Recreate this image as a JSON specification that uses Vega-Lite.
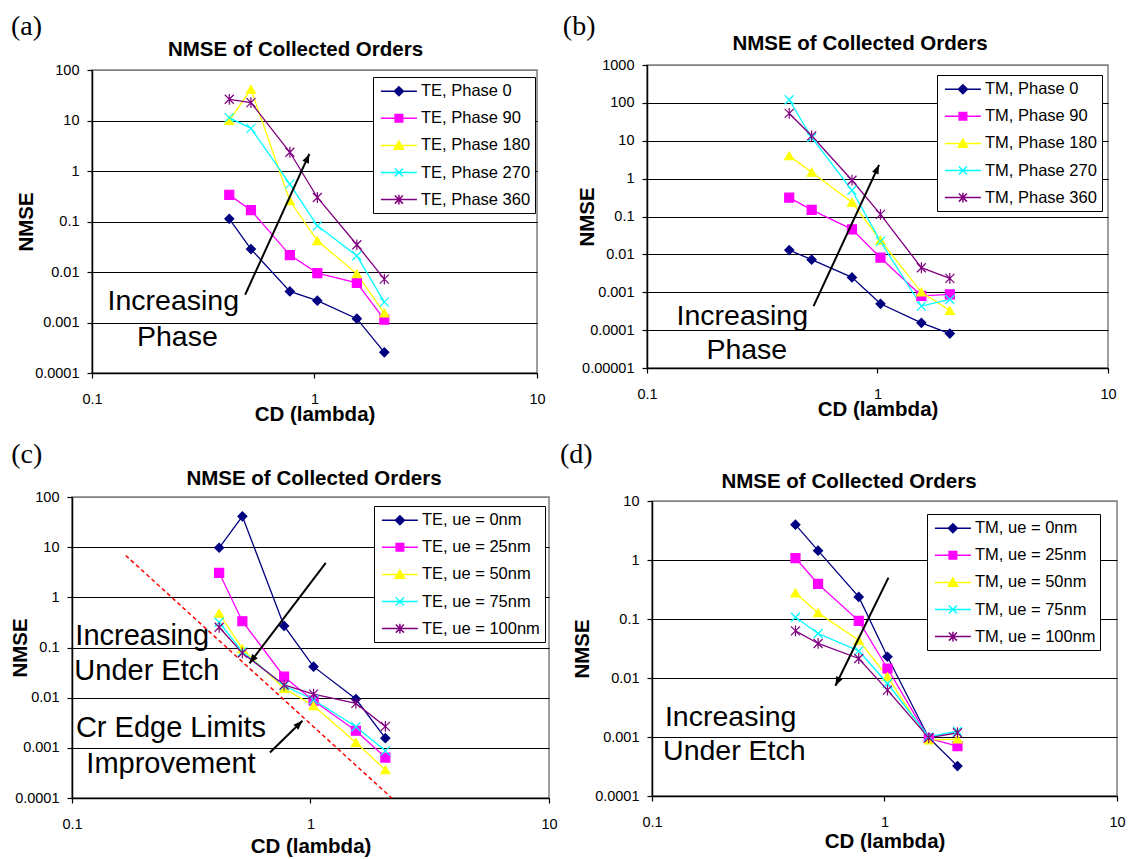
{
  "$schema": "https://vega.github.io/schema/vega-lite/v6.json",
  "padding": {"left": 9, "top": 12, "right": 0, "bottom": 0},
  "background": "white",
  "config": {
    "font": "Liberation Sans",
    "view": {"stroke": "#808080", "strokeWidth": 1.5},
    "axis": {"domainColor": "black", "domainWidth": 1.5, "tickColor": "black", "tickWidth": 1.2, "tickSize": 5, "labelColor": "black", "labelFontSize": 14.5, "labelFont": "Liberation Sans", "titleFont": "Liberation Sans", "titleFontSize": 20.5, "titleFontWeight": "bold", "titleColor": "black", "labelOverlap": false, "labelFlush": false, "grid": false},
    "axisY": {"grid": true, "gridWidth": 1, "gridOpacity": 1, "labelPadding": 8},
    "axisX": {"labelPadding": 14},
    "title": {"font": "Liberation Sans", "fontSize": 20.5, "fontWeight": "bold", "color": "black"},
    "legend": {"labelFont": "Liberation Sans", "labelFontSize": 16.5, "labelColor": "black", "symbolSize": 324, "rowPadding": 8.1, "labelOffset": 23.8, "padding": 4.2, "strokeColor": "black", "fillColor": "white", "labelLimit": 300, "cornerRadius": 0, "title": null, "symbolStrokeWidth": 1.5}
  },
  "datasets": {
    "series": [
      {"p":"a","s":"TE, Phase 0","x":0.414,"y":0.113},{"p":"a","s":"TE, Phase 0","x":0.518,"y":0.0284},{"p":"a","s":"TE, Phase 0","x":0.775,"y":0.00413},{"p":"a","s":"TE, Phase 0","x":1.03,"y":0.0027},{"p":"a","s":"TE, Phase 0","x":1.55,"y":0.00119},{"p":"a","s":"TE, Phase 0","x":2.06,"y":0.000257},
      {"p":"a","s":"TE, Phase 90","x":0.414,"y":0.337},{"p":"a","s":"TE, Phase 90","x":0.518,"y":0.168},{"p":"a","s":"TE, Phase 90","x":0.775,"y":0.0216},{"p":"a","s":"TE, Phase 90","x":1.03,"y":0.0095},{"p":"a","s":"TE, Phase 90","x":1.55,"y":0.0061},{"p":"a","s":"TE, Phase 90","x":2.06,"y":0.00114},
      {"p":"a","s":"TE, Phase 180","x":0.414,"y":9.95},{"p":"a","s":"TE, Phase 180","x":0.518,"y":41.5},{"p":"a","s":"TE, Phase 180","x":0.775,"y":0.257},{"p":"a","s":"TE, Phase 180","x":1.03,"y":0.0415},{"p":"a","s":"TE, Phase 180","x":1.55,"y":0.0092},{"p":"a","s":"TE, Phase 180","x":2.06,"y":0.00154},
      {"p":"a","s":"TE, Phase 270","x":0.414,"y":11.4},{"p":"a","s":"TE, Phase 270","x":0.518,"y":7.0},{"p":"a","s":"TE, Phase 270","x":0.775,"y":0.548},{"p":"a","s":"TE, Phase 270","x":1.03,"y":0.082},{"p":"a","s":"TE, Phase 270","x":1.55,"y":0.021},{"p":"a","s":"TE, Phase 270","x":2.06,"y":0.00254},
      {"p":"a","s":"TE, Phase 360","x":0.414,"y":26.3},{"p":"a","s":"TE, Phase 360","x":0.518,"y":22.6},{"p":"a","s":"TE, Phase 360","x":0.775,"y":2.35},{"p":"a","s":"TE, Phase 360","x":1.03,"y":0.299},{"p":"a","s":"TE, Phase 360","x":1.55,"y":0.0346},{"p":"a","s":"TE, Phase 360","x":2.06,"y":0.00724},
      {"p":"b","s":"TM, Phase 0","x":0.414,"y":0.013},{"p":"b","s":"TM, Phase 0","x":0.518,"y":0.00723},{"p":"b","s":"TM, Phase 0","x":0.775,"y":0.00247},{"p":"b","s":"TM, Phase 0","x":1.03,"y":0.000495},{"p":"b","s":"TM, Phase 0","x":1.55,"y":0.000156},{"p":"b","s":"TM, Phase 0","x":2.06,"y":0.0000813},
      {"p":"b","s":"TM, Phase 90","x":0.414,"y":0.315},{"p":"b","s":"TM, Phase 90","x":0.518,"y":0.149},{"p":"b","s":"TM, Phase 90","x":0.775,"y":0.0458},{"p":"b","s":"TM, Phase 90","x":1.03,"y":0.00816},{"p":"b","s":"TM, Phase 90","x":1.55,"y":0.000807},{"p":"b","s":"TM, Phase 90","x":2.06,"y":0.000875},
      {"p":"b","s":"TM, Phase 180","x":0.414,"y":3.99},{"p":"b","s":"TM, Phase 180","x":0.518,"y":1.48},{"p":"b","s":"TM, Phase 180","x":0.775,"y":0.238},{"p":"b","s":"TM, Phase 180","x":1.03,"y":0.0235},{"p":"b","s":"TM, Phase 180","x":1.55,"y":0.00101},{"p":"b","s":"TM, Phase 180","x":2.06,"y":0.00033},
      {"p":"b","s":"TM, Phase 270","x":0.414,"y":121},{"p":"b","s":"TM, Phase 270","x":0.518,"y":12.2},{"p":"b","s":"TM, Phase 270","x":0.775,"y":0.493},{"p":"b","s":"TM, Phase 270","x":1.03,"y":0.022},{"p":"b","s":"TM, Phase 270","x":1.55,"y":0.00043},{"p":"b","s":"TM, Phase 270","x":2.06,"y":0.000645},
      {"p":"b","s":"TM, Phase 360","x":0.414,"y":52.6},{"p":"b","s":"TM, Phase 360","x":0.518,"y":13.5},{"p":"b","s":"TM, Phase 360","x":0.775,"y":0.908},{"p":"b","s":"TM, Phase 360","x":1.03,"y":0.114},{"p":"b","s":"TM, Phase 360","x":1.55,"y":0.00444},{"p":"b","s":"TM, Phase 360","x":2.06,"y":0.00232},
      {"p":"c","s":"TE, ue = 0nm","x":0.414,"y":9.73},{"p":"c","s":"TE, ue = 0nm","x":0.518,"y":41.1},{"p":"c","s":"TE, ue = 0nm","x":0.775,"y":0.269},{"p":"c","s":"TE, ue = 0nm","x":1.03,"y":0.0415},{"p":"c","s":"TE, ue = 0nm","x":1.55,"y":0.00938},{"p":"c","s":"TE, ue = 0nm","x":2.06,"y":0.00156},
      {"p":"c","s":"TE, ue = 25nm","x":0.414,"y":3.08},{"p":"c","s":"TE, ue = 25nm","x":0.518,"y":0.334},{"p":"c","s":"TE, ue = 25nm","x":0.775,"y":0.0262},{"p":"c","s":"TE, ue = 25nm","x":1.03,"y":0.0087},{"p":"c","s":"TE, ue = 25nm","x":1.55,"y":0.00219},{"p":"c","s":"TE, ue = 25nm","x":2.06,"y":0.00064},
      {"p":"c","s":"TE, ue = 50nm","x":0.414,"y":0.482},{"p":"c","s":"TE, ue = 50nm","x":0.518,"y":0.0935},{"p":"c","s":"TE, ue = 50nm","x":0.775,"y":0.0153},{"p":"c","s":"TE, ue = 50nm","x":1.03,"y":0.0069},{"p":"c","s":"TE, ue = 50nm","x":1.55,"y":0.00128},{"p":"c","s":"TE, ue = 50nm","x":2.06,"y":0.000364},
      {"p":"c","s":"TE, ue = 75nm","x":0.414,"y":0.318},{"p":"c","s":"TE, ue = 75nm","x":0.518,"y":0.0826},{"p":"c","s":"TE, ue = 75nm","x":0.775,"y":0.0173},{"p":"c","s":"TE, ue = 75nm","x":1.03,"y":0.0091},{"p":"c","s":"TE, ue = 75nm","x":1.55,"y":0.00263},{"p":"c","s":"TE, ue = 75nm","x":2.06,"y":0.00087},
      {"p":"c","s":"TE, ue = 100nm","x":0.414,"y":0.253},{"p":"c","s":"TE, ue = 100nm","x":0.518,"y":0.0778},{"p":"c","s":"TE, ue = 100nm","x":0.775,"y":0.0179},{"p":"c","s":"TE, ue = 100nm","x":1.03,"y":0.0118},{"p":"c","s":"TE, ue = 100nm","x":1.55,"y":0.00768},{"p":"c","s":"TE, ue = 100nm","x":2.06,"y":0.00267},
      {"p":"d","s":"TM, ue = 0nm","x":0.414,"y":3.97},{"p":"d","s":"TM, ue = 0nm","x":0.518,"y":1.44},{"p":"d","s":"TM, ue = 0nm","x":0.775,"y":0.237},{"p":"d","s":"TM, ue = 0nm","x":1.03,"y":0.0229},{"p":"d","s":"TM, ue = 0nm","x":1.55,"y":0.000972},{"p":"d","s":"TM, ue = 0nm","x":2.06,"y":0.000322},
      {"p":"d","s":"TM, ue = 25nm","x":0.414,"y":1.08},{"p":"d","s":"TM, ue = 25nm","x":0.518,"y":0.393},{"p":"d","s":"TM, ue = 25nm","x":0.775,"y":0.093},{"p":"d","s":"TM, ue = 25nm","x":1.03,"y":0.0145},{"p":"d","s":"TM, ue = 25nm","x":1.55,"y":0.000946},{"p":"d","s":"TM, ue = 25nm","x":2.06,"y":0.000703},
      {"p":"d","s":"TM, ue = 50nm","x":0.414,"y":0.277},{"p":"d","s":"TM, ue = 50nm","x":0.518,"y":0.127},{"p":"d","s":"TM, ue = 50nm","x":0.775,"y":0.0437},{"p":"d","s":"TM, ue = 50nm","x":1.03,"y":0.0105},{"p":"d","s":"TM, ue = 50nm","x":1.55,"y":0.000888},{"p":"d","s":"TM, ue = 50nm","x":2.06,"y":0.000923},
      {"p":"d","s":"TM, ue = 75nm","x":0.414,"y":0.107},{"p":"d","s":"TM, ue = 75nm","x":0.518,"y":0.0568},{"p":"d","s":"TM, ue = 75nm","x":0.775,"y":0.0289},{"p":"d","s":"TM, ue = 75nm","x":1.03,"y":0.00807},{"p":"d","s":"TM, ue = 75nm","x":1.55,"y":0.00101},{"p":"d","s":"TM, ue = 75nm","x":2.06,"y":0.00126},
      {"p":"d","s":"TM, ue = 100nm","x":0.414,"y":0.063},{"p":"d","s":"TM, ue = 100nm","x":0.518,"y":0.0385},{"p":"d","s":"TM, ue = 100nm","x":0.775,"y":0.0214},{"p":"d","s":"TM, ue = 100nm","x":1.03,"y":0.00623},{"p":"d","s":"TM, ue = 100nm","x":1.55,"y":0.00097},{"p":"d","s":"TM, ue = 100nm","x":2.06,"y":0.00118}
    ],
    "notes": [
      {"p":"a","t":"Increasing","x":0.232,"y":0.00263},{"p":"a","t":"Phase","x":0.242,"y":0.000516},
      {"p":"b","t":"Increasing","x":0.259,"y":0.000243},{"p":"b","t":"Phase","x":0.271,"y":0.0000307},
      {"p":"c","t":"Increasing","x":0.197,"y":0.1675},{"p":"c","t":"Under Etch","x":0.206,"y":0.0335},{"p":"c","t":"Cr Edge Limits","x":0.26,"y":0.00243},{"p":"c","t":"Improvement","x":0.26,"y":0.000472},
      {"p":"d","t":"Increasing","x":0.218,"y":0.00217},{"p":"d","t":"Under Etch","x":0.226,"y":0.000578}
    ],
    "arrows": [
      {"p":"a","k":1,"x":0.948,"y":2.18,"x2":0.488,"y2":0.00355},
      {"p":"b","k":1,"x":1.016,"y":2.31,"x2":0.528,"y2":0.00043},
      {"p":"c","k":1,"x":0.555,"y":0.0483,"x2":1.159,"y2":4.88},
      {"p":"c","k":2,"x":0.925,"y":0.00346,"x2":0.676,"y2":0.000807},
      {"p":"d","k":1,"x":0.615,"y":0.00738,"x2":1.04,"y2":0.503}
    ],
    "guide": [
      {"p":"c","x":0.168,"y":6.84,"x2":2.19,"y2":0.0001}
    ]
  },
  "resolve": {"scale": {"x": "independent", "y": "independent", "color": "independent", "fill": "independent", "stroke": "independent", "shape": "independent"}, "legend": {"color": "independent"}},
  "spacing": 14,
  "vconcat": [
    {
      "spacing": 0,
      "resolve": {"scale": {"x": "independent", "y": "independent", "color": "independent", "fill": "independent", "stroke": "independent", "shape": "independent"}, "legend": {"color": "independent"}},
      "hconcat": [
        {"width": 1, "height": 1, "data": {"values": []}, "mark": {"type": "text", "text": ""}, "view": {"stroke": null}},
        {
          "spacing": 16,
          "resolve": {"scale": {"x": "independent", "y": "independent", "color": "independent", "fill": "independent", "stroke": "independent", "shape": "independent"}, "legend": {"color": "independent"}},
          "hconcat": [
            {
              "spacing": 0,
              "resolve": {"scale": {"x": "independent", "y": "independent", "color": "independent", "fill": "independent", "stroke": "independent", "shape": "independent"}, "legend": {"color": "independent"}},
              "vconcat": [
                {"width": 1, "height": 1, "data": {"values": []}, "mark": {"type": "text", "text": ""}, "view": {"stroke": null}},
                {
                  "title": {"text": "(a)", "anchor": "start", "frame": "bounds", "font": "Liberation Serif", "fontSize": 28, "fontWeight": "normal", "dx": -5, "offset": -2},
                  "resolve": {"scale": {"x": "independent", "y": "independent", "color": "independent", "fill": "independent", "stroke": "independent", "shape": "independent"}, "legend": {"color": "independent"}},
                  "vconcat": [
                    {
                      "title": {"text": "NMSE of Collected Orders", "dx": -19, "offset": 1.4},
                      "width": 445, "height": 303,
                      "encoding": {
                        "x": {"field": "x", "type": "quantitative", "scale": {"type": "log", "domain": [0.1, 10], "nice": false}, "axis": {"values": [0.1, 1, 10], "format": "~g", "title": "CD (lambda)", "titlePadding": -1}},
                        "y": {"field": "y", "type": "quantitative", "scale": {"type": "log", "domain": [0.0001, 100], "nice": false}, "axis": {"values": [0.0001, 0.001, 0.01, 0.1, 1, 10, 100], "format": "~g", "title": "NMSE", "titlePadding": -2, "gridColor": {"condition": {"test": "datum.value >= 99", "value": "#808080"}, "value": "black"}}}
                      },
                      "layer": [
                        {"data": {"name": "series"}, "transform": [{"filter": "datum.p == 'a'"}], "mark": {"type": "line", "strokeWidth": 1.3},
                          "encoding": {"color": {"field": "s", "type": "nominal", "scale": {"domain": ["TE, Phase 0", "TE, Phase 90", "TE, Phase 180", "TE, Phase 270", "TE, Phase 360"], "range": ["#000080", "#FF00FF", "#FFFF00", "#00FFFF", "#800080"]},
                            "legend": {"orient": "none", "legendX": 281, "legendY": 7, "encode": {"symbols": {"update": {
                              "shape": {"signal": "['M-0.7,0L3.3,0M1.3,-0.5L1.8,0L1.3,0.5L0.8,0Z','M-0.7,0L3.3,0M0.88,-0.42L1.72,-0.42L1.72,0.42L0.88,0.42Z','M-0.7,0L3.3,0M1.3,-0.48L1.82,0.42L0.78,0.42Z','M-0.7,0L3.3,0M0.85,-0.45L1.75,0.45M0.85,0.45L1.75,-0.45','M-0.7,0L3.3,0M0.85,-0.45L1.75,0.45M0.85,0.45L1.75,-0.45M1.3,-0.55L1.3,0.55'][datum.index]"},
                              "fill": {"signal": "['#000080','#FF00FF','#FFFF00','#00FFFF','#800080'][datum.index]"},
                              "stroke": {"signal": "['#000080','#FF00FF','#FFFF00','#00FFFF','#800080'][datum.index]"},
                              "strokeWidth": {"value": 1.5}, "opacity": {"value": 1}, "fillOpacity": {"value": 1}, "strokeOpacity": {"value": 1}}}}}}}},
                        {"data": {"name": "series"}, "transform": [{"filter": "datum.p == 'a'"}], "mark": {"type": "point", "filled": true, "size": 81, "strokeWidth": 1.2, "opacity": 1},
                          "encoding": {
                            "fill": {"field": "s", "type": "nominal", "scale": {"domain": ["TE, Phase 360", "TE, Phase 270", "TE, Phase 180", "TE, Phase 90", "TE, Phase 0"], "range": ["#800080", "#00FFFF", "#FFFF00", "#FF00FF", "#000080"]}, "legend": null},
                            "stroke": {"field": "s", "type": "nominal", "scale": {"domain": ["TE, Phase 360", "TE, Phase 270", "TE, Phase 180", "TE, Phase 90", "TE, Phase 0"], "range": ["#800080", "#00FFFF", "#FFFF00", "#FF00FF", "#000080"]}, "legend": null},
                            "shape": {"field": "s", "type": "nominal", "scale": {"domain": ["TE, Phase 360", "TE, Phase 270", "TE, Phase 180", "TE, Phase 90", "TE, Phase 0"], "range": ["M-1,-1L1,1M-1,1L1,-1M0,-1.2L0,1.2", "M-1,-1L1,1M-1,1L1,-1", "triangle-up", "square", "diamond"]}, "legend": null}}},
                        {"data": {"name": "notes"}, "transform": [{"filter": "datum.p == 'a'"}], "mark": {"type": "text", "fontSize": 28.5, "font": "Liberation Sans", "align": "center", "baseline": "middle", "color": "black"}, "encoding": {"text": {"field": "t"}}},
                        {"data": {"name": "arrows"}, "transform": [{"filter": "datum.p == 'a'"}], "mark": {"type": "rule", "strokeWidth": 2, "color": "black"}, "encoding": {"x2": {"field": "x2"}, "y2": {"field": "y2"}}},
                        {"data": {"name": "arrows"}, "transform": [{"filter": "datum.p == 'a'"}], "mark": {"type": "point", "shape": "M0,0L-0.5,1.3L0.5,1.3Z", "size": 196, "filled": true, "color": "black", "opacity": 1, "angle": 24.5}}
                      ]
                    }
                  ]
                }
              ]
            },
            {
              "spacing": 0,
              "resolve": {"scale": {"x": "independent", "y": "independent", "color": "independent", "fill": "independent", "stroke": "independent", "shape": "independent"}, "legend": {"color": "independent"}},
              "vconcat": [
                {"width": 1, "height": 1, "data": {"values": []}, "mark": {"type": "text", "text": ""}, "view": {"stroke": null}},
                {
                  "title": {"text": "(b)", "anchor": "start", "frame": "bounds", "font": "Liberation Serif", "fontSize": 28, "fontWeight": "normal", "dx": -13.5, "offset": -8},
                  "resolve": {"scale": {"x": "independent", "y": "independent", "color": "independent", "fill": "independent", "stroke": "independent", "shape": "independent"}, "legend": {"color": "independent"}},
                  "vconcat": [
                    {
                      "title": {"text": "NMSE of Collected Orders", "dx": -17.5, "offset": 2.4},
                      "width": 461, "height": 303,
                      "encoding": {
                        "x": {"field": "x", "type": "quantitative", "scale": {"type": "log", "domain": [0.1, 10], "nice": false}, "axis": {"values": [0.1, 1, 10], "format": "~g", "title": "CD (lambda)", "titlePadding": -1.5}},
                        "y": {"field": "y", "type": "quantitative", "scale": {"type": "log", "domain": [0.00001, 1000], "nice": false}, "axis": {"values": [0.00001, 0.0001, 0.001, 0.01, 0.1, 1, 10, 100, 1000], "format": "~g", "title": "NMSE", "titlePadding": -15.5, "gridColor": {"condition": {"test": "datum.value >= 999", "value": "#808080"}, "value": "black"}}}
                      },
                      "layer": [
                        {"data": {"name": "series"}, "transform": [{"filter": "datum.p == 'b'"}], "mark": {"type": "line", "strokeWidth": 1.3},
                          "encoding": {"color": {"field": "s", "type": "nominal", "scale": {"domain": ["TM, Phase 0", "TM, Phase 90", "TM, Phase 180", "TM, Phase 270", "TM, Phase 360"], "range": ["#000080", "#FF00FF", "#FFFF00", "#00FFFF", "#800080"]},
                            "legend": {"orient": "none", "legendX": 290, "legendY": 10, "encode": {"symbols": {"update": {
                              "shape": {"signal": "['M-0.7,0L3.3,0M1.3,-0.5L1.8,0L1.3,0.5L0.8,0Z','M-0.7,0L3.3,0M0.88,-0.42L1.72,-0.42L1.72,0.42L0.88,0.42Z','M-0.7,0L3.3,0M1.3,-0.48L1.82,0.42L0.78,0.42Z','M-0.7,0L3.3,0M0.85,-0.45L1.75,0.45M0.85,0.45L1.75,-0.45','M-0.7,0L3.3,0M0.85,-0.45L1.75,0.45M0.85,0.45L1.75,-0.45M1.3,-0.55L1.3,0.55'][datum.index]"},
                              "fill": {"signal": "['#000080','#FF00FF','#FFFF00','#00FFFF','#800080'][datum.index]"},
                              "stroke": {"signal": "['#000080','#FF00FF','#FFFF00','#00FFFF','#800080'][datum.index]"},
                              "strokeWidth": {"value": 1.5}, "opacity": {"value": 1}, "fillOpacity": {"value": 1}, "strokeOpacity": {"value": 1}}}}}}}},
                        {"data": {"name": "series"}, "transform": [{"filter": "datum.p == 'b'"}], "mark": {"type": "point", "filled": true, "size": 81, "strokeWidth": 1.2, "opacity": 1},
                          "encoding": {
                            "fill": {"field": "s", "type": "nominal", "scale": {"domain": ["TM, Phase 360", "TM, Phase 270", "TM, Phase 180", "TM, Phase 90", "TM, Phase 0"], "range": ["#800080", "#00FFFF", "#FFFF00", "#FF00FF", "#000080"]}, "legend": null},
                            "stroke": {"field": "s", "type": "nominal", "scale": {"domain": ["TM, Phase 360", "TM, Phase 270", "TM, Phase 180", "TM, Phase 90", "TM, Phase 0"], "range": ["#800080", "#00FFFF", "#FFFF00", "#FF00FF", "#000080"]}, "legend": null},
                            "shape": {"field": "s", "type": "nominal", "scale": {"domain": ["TM, Phase 360", "TM, Phase 270", "TM, Phase 180", "TM, Phase 90", "TM, Phase 0"], "range": ["M-1,-1L1,1M-1,1L1,-1M0,-1.2L0,1.2", "M-1,-1L1,1M-1,1L1,-1", "triangle-up", "square", "diamond"]}, "legend": null}}},
                        {"data": {"name": "notes"}, "transform": [{"filter": "datum.p == 'b'"}], "mark": {"type": "text", "fontSize": 28.5, "font": "Liberation Sans", "align": "center", "baseline": "middle", "color": "black"}, "encoding": {"text": {"field": "t"}}},
                        {"data": {"name": "arrows"}, "transform": [{"filter": "datum.p == 'b'"}], "mark": {"type": "rule", "strokeWidth": 2, "color": "black"}, "encoding": {"x2": {"field": "x2"}, "y2": {"field": "y2"}}},
                        {"data": {"name": "arrows"}, "transform": [{"filter": "datum.p == 'b'"}], "mark": {"type": "point", "shape": "M0,0L-0.5,1.3L0.5,1.3Z", "size": 196, "filled": true, "color": "black", "opacity": 1, "angle": 24.8}}
                      ]
                    }
                  ]
                }
              ]
            }
          ]
        }
      ]
    },
    {
      "spacing": 0,
      "resolve": {"scale": {"x": "independent", "y": "independent", "color": "independent", "fill": "independent", "stroke": "independent", "shape": "independent"}, "legend": {"color": "independent"}},
      "hconcat": [
        {"width": 1, "height": 1, "data": {"values": []}, "mark": {"type": "text", "text": ""}, "view": {"stroke": null}},
        {
          "spacing": 1,
          "resolve": {"scale": {"x": "independent", "y": "independent", "color": "independent", "fill": "independent", "stroke": "independent", "shape": "independent"}, "legend": {"color": "independent"}},
          "hconcat": [
            {
              "spacing": 0,
              "resolve": {"scale": {"x": "independent", "y": "independent", "color": "independent", "fill": "independent", "stroke": "independent", "shape": "independent"}, "legend": {"color": "independent"}},
              "vconcat": [
                {"width": 1, "height": 1, "data": {"values": []}, "mark": {"type": "text", "text": ""}, "view": {"stroke": null}},
                {
                  "title": {"text": "(c)", "anchor": "start", "frame": "bounds", "font": "Liberation Serif", "fontSize": 28, "fontWeight": "normal", "dx": 1, "offset": -1},
                  "resolve": {"scale": {"x": "independent", "y": "independent", "color": "independent", "fill": "independent", "stroke": "independent", "shape": "independent"}, "legend": {"color": "independent"}},
                  "vconcat": [
                    {
                      "title": {"text": "NMSE of Collected Orders", "dx": 3.5, "offset": -0.6},
                      "width": 477, "height": 301,
                      "encoding": {
                        "x": {"field": "x", "type": "quantitative", "scale": {"type": "log", "domain": [0.1, 10], "nice": false}, "axis": {"values": [0.1, 1, 10], "format": "~g", "title": "CD (lambda)", "titlePadding": 6}},
                        "y": {"field": "y", "type": "quantitative", "scale": {"type": "log", "domain": [0.0001, 100], "nice": false}, "axis": {"values": [0.0001, 0.001, 0.01, 0.1, 1, 10, 100], "format": "~g", "title": "NMSE", "titlePadding": -16.3, "gridColor": {"condition": {"test": "datum.value >= 99", "value": "#808080"}, "value": "black"}}}
                      },
                      "layer": [
                        {"data": {"name": "guide"}, "transform": [{"filter": "datum.p == 'c'"}], "mark": {"type": "rule", "strokeWidth": 1.5, "color": "#FF0000", "strokeDash": [4, 3]}, "encoding": {"x2": {"field": "x2"}, "y2": {"field": "y2"}}},
                        {"data": {"name": "series"}, "transform": [{"filter": "datum.p == 'c'"}], "mark": {"type": "line", "strokeWidth": 1.3},
                          "encoding": {"color": {"field": "s", "type": "nominal", "scale": {"domain": ["TE, ue = 0nm", "TE, ue = 25nm", "TE, ue = 50nm", "TE, ue = 75nm", "TE, ue = 100nm"], "range": ["#000080", "#FF00FF", "#FFFF00", "#00FFFF", "#800080"]},
                            "legend": {"orient": "none", "legendX": 302, "legendY": 9, "encode": {"symbols": {"update": {
                              "shape": {"signal": "['M-0.7,0L3.3,0M1.3,-0.5L1.8,0L1.3,0.5L0.8,0Z','M-0.7,0L3.3,0M0.88,-0.42L1.72,-0.42L1.72,0.42L0.88,0.42Z','M-0.7,0L3.3,0M1.3,-0.48L1.82,0.42L0.78,0.42Z','M-0.7,0L3.3,0M0.85,-0.45L1.75,0.45M0.85,0.45L1.75,-0.45','M-0.7,0L3.3,0M0.85,-0.45L1.75,0.45M0.85,0.45L1.75,-0.45M1.3,-0.55L1.3,0.55'][datum.index]"},
                              "fill": {"signal": "['#000080','#FF00FF','#FFFF00','#00FFFF','#800080'][datum.index]"},
                              "stroke": {"signal": "['#000080','#FF00FF','#FFFF00','#00FFFF','#800080'][datum.index]"},
                              "strokeWidth": {"value": 1.5}, "opacity": {"value": 1}, "fillOpacity": {"value": 1}, "strokeOpacity": {"value": 1}}}}}}}},
                        {"data": {"name": "series"}, "transform": [{"filter": "datum.p == 'c'"}], "mark": {"type": "point", "filled": true, "size": 81, "strokeWidth": 1.2, "opacity": 1},
                          "encoding": {
                            "fill": {"field": "s", "type": "nominal", "scale": {"domain": ["TE, ue = 100nm", "TE, ue = 75nm", "TE, ue = 50nm", "TE, ue = 25nm", "TE, ue = 0nm"], "range": ["#800080", "#00FFFF", "#FFFF00", "#FF00FF", "#000080"]}, "legend": null},
                            "stroke": {"field": "s", "type": "nominal", "scale": {"domain": ["TE, ue = 100nm", "TE, ue = 75nm", "TE, ue = 50nm", "TE, ue = 25nm", "TE, ue = 0nm"], "range": ["#800080", "#00FFFF", "#FFFF00", "#FF00FF", "#000080"]}, "legend": null},
                            "shape": {"field": "s", "type": "nominal", "scale": {"domain": ["TE, ue = 100nm", "TE, ue = 75nm", "TE, ue = 50nm", "TE, ue = 25nm", "TE, ue = 0nm"], "range": ["M-1,-1L1,1M-1,1L1,-1M0,-1.2L0,1.2", "M-1,-1L1,1M-1,1L1,-1", "triangle-up", "square", "diamond"]}, "legend": null}}},
                        {"data": {"name": "notes"}, "transform": [{"filter": "datum.p == 'c'"}], "mark": {"type": "text", "fontSize": 29, "font": "Liberation Sans", "align": "center", "baseline": "middle", "color": "black"}, "encoding": {"text": {"field": "t"}}},
                        {"data": {"name": "arrows"}, "transform": [{"filter": "datum.p == 'c'"}], "mark": {"type": "rule", "strokeWidth": 2, "color": "black"}, "encoding": {"x2": {"field": "x2"}, "y2": {"field": "y2"}}},
                        {"data": {"name": "arrows"}, "transform": [{"filter": "datum.p == 'c' && datum.k == 1"}], "mark": {"type": "point", "shape": "M0,0L-0.5,1.3L0.5,1.3Z", "size": 196, "filled": true, "color": "black", "opacity": 1, "angle": 217}},
                        {"data": {"name": "arrows"}, "transform": [{"filter": "datum.p == 'c' && datum.k == 2"}], "mark": {"type": "point", "shape": "M0,0L-0.5,1.3L0.5,1.3Z", "size": 196, "filled": true, "color": "black", "opacity": 1, "angle": 45.6}}
                      ]
                    }
                  ]
                }
              ]
            },
            {
              "spacing": 0,
              "resolve": {"scale": {"x": "independent", "y": "independent", "color": "independent", "fill": "independent", "stroke": "independent", "shape": "independent"}, "legend": {"color": "independent"}},
              "vconcat": [
                {"width": 1, "height": 1, "data": {"values": []}, "mark": {"type": "text", "text": ""}, "view": {"stroke": null}},
                {
                  "title": {"text": "(d)", "anchor": "start", "frame": "bounds", "font": "Liberation Serif", "fontSize": 28, "fontWeight": "normal", "dx": -12, "offset": 1.9},
                  "resolve": {"scale": {"x": "independent", "y": "independent", "color": "independent", "fill": "independent", "stroke": "independent", "shape": "independent"}, "legend": {"color": "independent"}},
                  "vconcat": [
                    {
                      "title": {"text": "NMSE of Collected Orders", "dx": -35.5, "offset": 0.4},
                      "width": 465, "height": 295,
                      "encoding": {
                        "x": {"field": "x", "type": "quantitative", "scale": {"type": "log", "domain": [0.1, 10], "nice": false}, "axis": {"values": [0.1, 1, 10], "format": "~g", "title": "CD (lambda)", "titlePadding": 3}},
                        "y": {"field": "y", "type": "quantitative", "scale": {"type": "log", "domain": [0.0001, 10], "nice": false}, "axis": {"values": [0.0001, 0.001, 0.01, 0.1, 1, 10], "format": "~g", "title": "NMSE", "titlePadding": 2, "gridColor": {"condition": {"test": "datum.value >= 9", "value": "#808080"}, "value": "black"}}}
                      },
                      "layer": [
                        {"data": {"name": "series"}, "transform": [{"filter": "datum.p == 'd'"}], "mark": {"type": "line", "strokeWidth": 1.3},
                          "encoding": {"color": {"field": "s", "type": "nominal", "scale": {"domain": ["TM, ue = 0nm", "TM, ue = 25nm", "TM, ue = 50nm", "TM, ue = 75nm", "TM, ue = 100nm"], "range": ["#000080", "#FF00FF", "#FFFF00", "#00FFFF", "#800080"]},
                            "legend": {"orient": "none", "legendX": 275, "legendY": 13, "encode": {"symbols": {"update": {
                              "shape": {"signal": "['M-0.7,0L3.3,0M1.3,-0.5L1.8,0L1.3,0.5L0.8,0Z','M-0.7,0L3.3,0M0.88,-0.42L1.72,-0.42L1.72,0.42L0.88,0.42Z','M-0.7,0L3.3,0M1.3,-0.48L1.82,0.42L0.78,0.42Z','M-0.7,0L3.3,0M0.85,-0.45L1.75,0.45M0.85,0.45L1.75,-0.45','M-0.7,0L3.3,0M0.85,-0.45L1.75,0.45M0.85,0.45L1.75,-0.45M1.3,-0.55L1.3,0.55'][datum.index]"},
                              "fill": {"signal": "['#000080','#FF00FF','#FFFF00','#00FFFF','#800080'][datum.index]"},
                              "stroke": {"signal": "['#000080','#FF00FF','#FFFF00','#00FFFF','#800080'][datum.index]"},
                              "strokeWidth": {"value": 1.5}, "opacity": {"value": 1}, "fillOpacity": {"value": 1}, "strokeOpacity": {"value": 1}}}}}}}},
                        {"data": {"name": "series"}, "transform": [{"filter": "datum.p == 'd'"}], "mark": {"type": "point", "filled": true, "size": 81, "strokeWidth": 1.2, "opacity": 1},
                          "encoding": {
                            "fill": {"field": "s", "type": "nominal", "scale": {"domain": ["TM, ue = 100nm", "TM, ue = 75nm", "TM, ue = 50nm", "TM, ue = 25nm", "TM, ue = 0nm"], "range": ["#800080", "#00FFFF", "#FFFF00", "#FF00FF", "#000080"]}, "legend": null},
                            "stroke": {"field": "s", "type": "nominal", "scale": {"domain": ["TM, ue = 100nm", "TM, ue = 75nm", "TM, ue = 50nm", "TM, ue = 25nm", "TM, ue = 0nm"], "range": ["#800080", "#00FFFF", "#FFFF00", "#FF00FF", "#000080"]}, "legend": null},
                            "shape": {"field": "s", "type": "nominal", "scale": {"domain": ["TM, ue = 100nm", "TM, ue = 75nm", "TM, ue = 50nm", "TM, ue = 25nm", "TM, ue = 0nm"], "range": ["M-1,-1L1,1M-1,1L1,-1M0,-1.2L0,1.2", "M-1,-1L1,1M-1,1L1,-1", "triangle-up", "square", "diamond"]}, "legend": null}}},
                        {"data": {"name": "notes"}, "transform": [{"filter": "datum.p == 'd'"}], "mark": {"type": "text", "fontSize": 28.5, "font": "Liberation Sans", "align": "center", "baseline": "middle", "color": "black"}, "encoding": {"text": {"field": "t"}}},
                        {"data": {"name": "arrows"}, "transform": [{"filter": "datum.p == 'd'"}], "mark": {"type": "rule", "strokeWidth": 2, "color": "black"}, "encoding": {"x2": {"field": "x2"}, "y2": {"field": "y2"}}},
                        {"data": {"name": "arrows"}, "transform": [{"filter": "datum.p == 'd'"}], "mark": {"type": "point", "shape": "M0,0L-0.5,1.3L0.5,1.3Z", "size": 196, "filled": true, "color": "black", "opacity": 1, "angle": 206}}
                      ]
                    }
                  ]
                }
              ]
            }
          ]
        }
      ]
    }
  ]
}
